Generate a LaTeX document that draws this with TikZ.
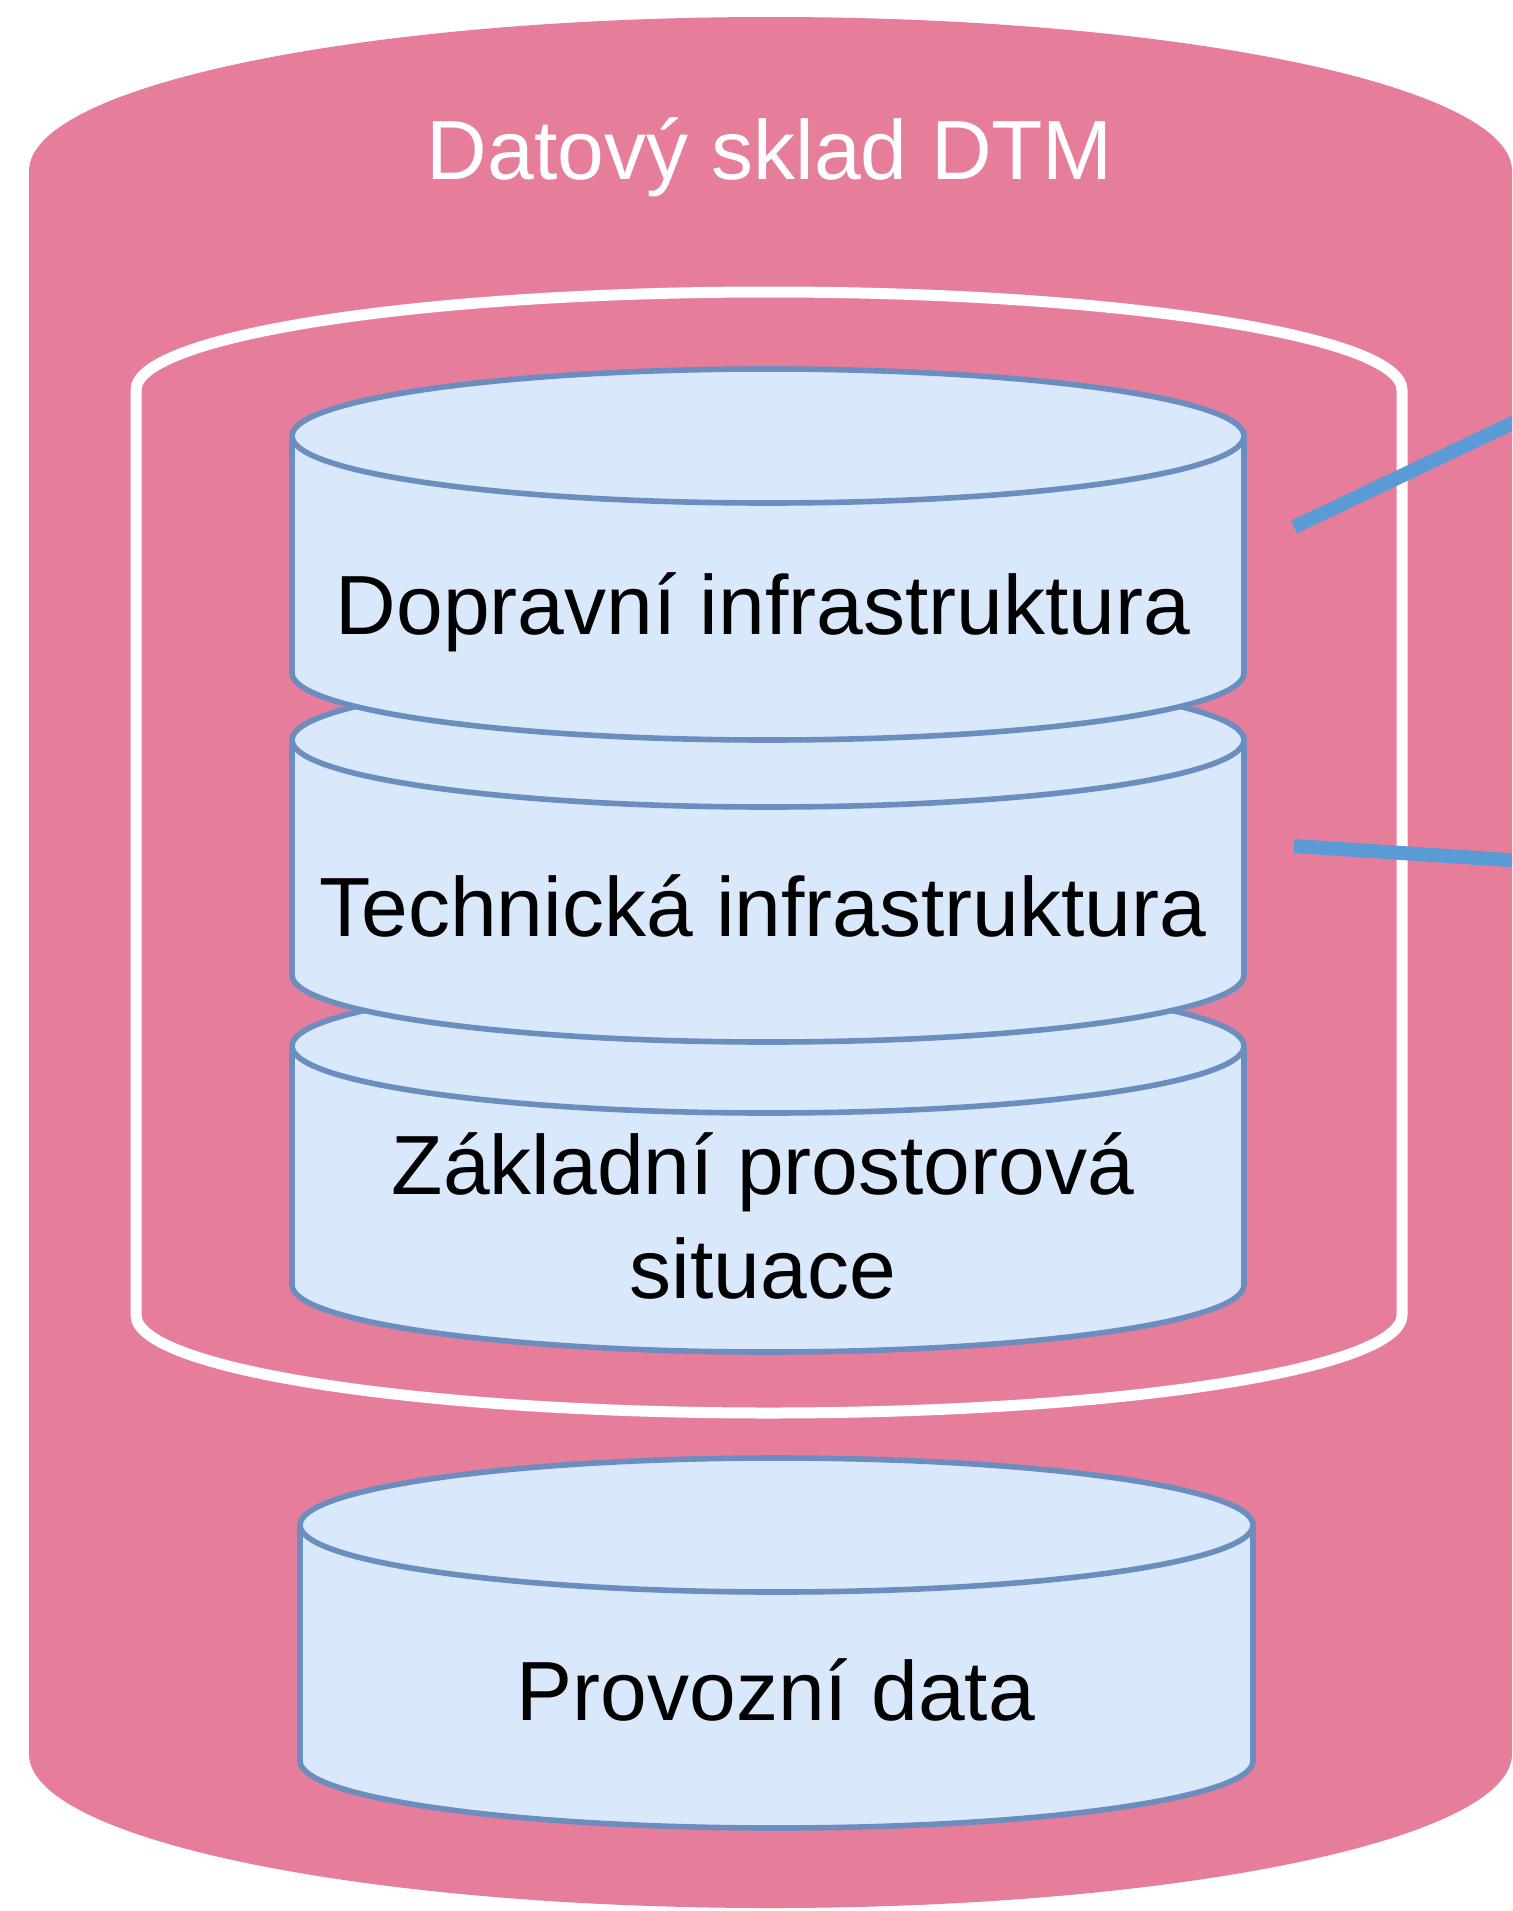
\documentclass[tikz,border=0pt]{standalone}
\usepackage{fontspec}
\setmainfont{Liberation Sans}
\definecolor{pinkfill}{RGB}{230,126,155}
\definecolor{dbfill}{HTML}{DAE8FC}
\definecolor{dbline}{HTML}{6C8EBF}
\definecolor{linkblue}{HTML}{5B9BD5}
\newcommand{\dbcyl}[6]{%
  \pgfmathsetmacro{\cylrx}{(#2-#1)/2}%
  \path[#6] (#1,-#3) arc[start angle=180,end angle=0,x radius=\cylrx,y radius=#5] -- (#2,-#4) arc[start angle=0,end angle=-180,x radius=\cylrx,y radius=#5] -- cycle;%
}
\newcommand{\dbfront}[5]{%
  \pgfmathsetmacro{\cylrx}{(#2-#1)/2}%
  \draw[#5] (#1,-#3) arc[start angle=180,end angle=360,x radius=\cylrx,y radius=#4];%
}
\begin{document}
\begin{tikzpicture}[x=0.5pt,y=0.5pt,
  outerdb/.style={fill=pinkfill,draw=none},
  innerdb/.style={fill=pinkfill,draw=white,line width=5.5pt},
  bluedb/.style={fill=dbfill,draw=dbline,line width=2.8pt},
  bluearc/.style={draw=dbline,line width=2.8pt},
  dblabel/.style={font=\fontsize{42}{50}\selectfont,text=black,inner sep=0pt,anchor=base},
  titlelabel/.style={dblabel,text=white},
  link/.style={draw=linkblue,line width=7pt}]
\useasboundingbox (0,0) rectangle (1512,-1911);
\fill[white] (0,0) rectangle (1512,-1911);
\clip (0,0) rectangle (1512,-1911);
% outer data store
\dbcyl{29}{1512}{171}{1754}{154}{outerdb}
% inner group
\dbcyl{136}{1402}{390}{1315}{98}{innerdb}
% stacked databases (bottom first)
\dbcyl{292}{1244}{1046}{1285}{67}{bluedb}
\dbfront{292}{1244}{1046}{67}{bluearc}
\dbcyl{292}{1244}{740}{975}{67}{bluedb}
\dbfront{292}{1244}{740}{67}{bluearc}
\dbcyl{292}{1244}{436}{673}{67}{bluedb}
\dbfront{292}{1244}{436}{67}{bluearc}
% operational data
\dbcyl{300}{1253}{1525}{1761}{67}{bluedb}
\dbfront{300}{1253}{1525}{67}{bluearc}
% labels
\node[titlelabel] (title) at (770,-179) {Datový sklad DTM};
\node[dblabel] (dop) at (763,-634) {Dopravní infrastruktura};
\node[dblabel] (tech) at (763,-936) {Technická infrastruktura};
\node[dblabel] (zak1) at (763,-1194) {Základní prostorová};
\node[dblabel] (zak2) at (763,-1298) {situace};
\node[dblabel] (prov) at (776,-1720) {Provozní data};
% connectors leaving the picture
\coordinate (l1a) at (1294,-527);
\coordinate (l1b) at (1540,-410);
\coordinate (l2a) at (1294,-846);
\coordinate (l2b) at (1540,-862);
\draw[link] (l1a) -- (l1b);
\draw[link] (l2a) -- (l2b);
\end{tikzpicture}
\end{document}
